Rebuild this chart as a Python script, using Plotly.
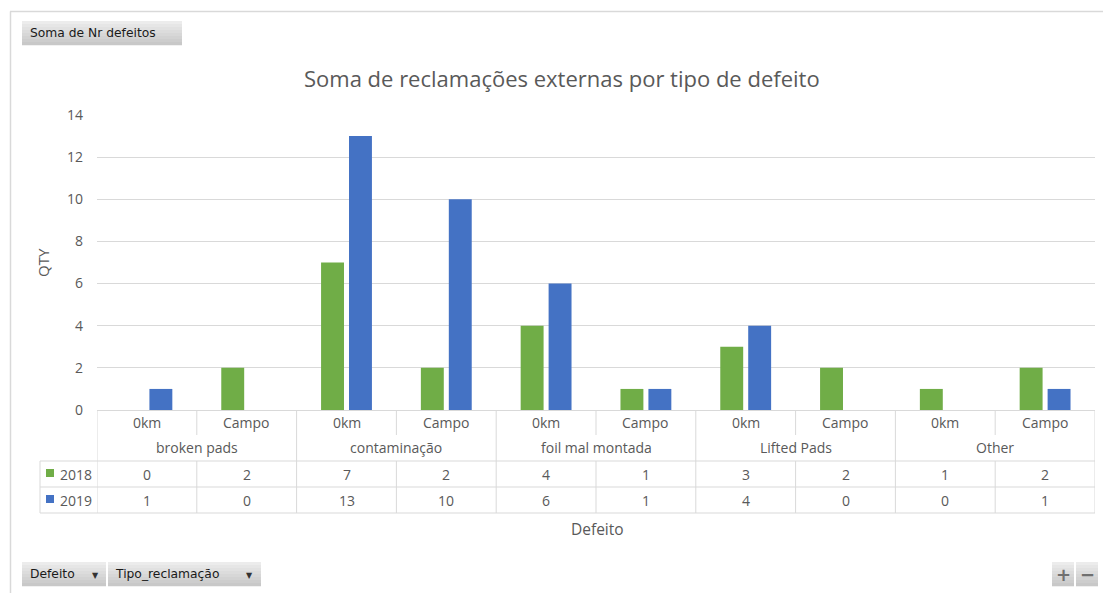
import plotly.graph_objects as go

# Pivot data: number of external complaints by defect type and complaint kind
defeitos = ["broken pads", "contaminação", "foil mal montada", "Lifted Pads", "Other"]
tipos = ["0km", "Campo"]
anos = ["2018", "2019"]
qtd_2018 = [0, 2, 7, 2, 4, 1, 3, 2, 1, 2]
qtd_2019 = [1, 0, 13, 10, 6, 1, 4, 0, 0, 1]
y_ticks = [0, 2, 4, 6, 8, 10, 12, 14]

series = {"2018": qtd_2018, "2019": qtd_2019}
cores = {"2018": "#70AD47", "2019": "#4472C4"}

W, H = 1103, 593
L, R, T, B = 97, 1095, 115, 410  # plot area in pixels
TXT = "#595959"
GRID = "#D9D9D9"
FONT = "Open Sans, Segoe UI, sans-serif"
BTN_FONT = "DejaVu Sans, Tahoma, sans-serif"

n = len(defeitos) * len(tipos)
xs = list(range(n))
sub_labels = [t for _ in defeitos for t in tipos]


def fx(p):
    return (p - L) / (R - L)


def fy(p):
    return (B - p) / (B - T)


fig = go.Figure()
for ano in anos:
    fig.add_trace(go.Bar(
        x=xs, y=series[ano], name=ano,
        marker=dict(color=cores[ano], line=dict(width=0)),
        showlegend=False, hoverinfo="y",
    ))

shapes = []
ann = []


def hline(y, x0, x1):
    shapes.append(dict(type="line", xref="paper", yref="paper",
                       x0=fx(x0), x1=fx(x1), y0=fy(y), y1=fy(y),
                       line=dict(color=GRID, width=1)))


def vline_data(v, y0, y1):
    shapes.append(dict(type="line", xref="x", yref="paper",
                       x0=v, x1=v, y0=fy(y0), y1=fy(y1),
                       line=dict(color=GRID, width=1)))


def text(x, y, s, size=14, color=TXT, xref="paper", family=FONT,
         xanchor="center", **kw):
    ann.append(dict(x=x, y=y, xref=xref, yref="paper", text=s, showarrow=False,
                    xanchor=xanchor, yanchor="middle",
                    font=dict(size=size, color=color, family=family), **kw))


# Outer chart frame
shapes.append(dict(type="line", xref="paper", yref="paper", x0=fx(10), x1=fx(W),
                   y0=fy(11.5), y1=fy(11.5), line=dict(color="#D9D9D9", width=1.5)))
shapes.append(dict(type="line", xref="paper", yref="paper", x0=fx(10.5), x1=fx(10.5),
                   y0=fy(11.5), y1=fy(H), line=dict(color="#D9D9D9", width=1.5)))

# Data table grid below the plot
ROW_SUB, ROW_CAT, ROW_A, ROW_B, ROW_END = 410, 435, 461, 487, 513
LEFT_COL = 40
for yy in (ROW_A, ROW_B, ROW_END):
    hline(yy, LEFT_COL, R)
shapes.append(dict(type="line", xref="paper", yref="paper", x0=fx(LEFT_COL), x1=fx(LEFT_COL),
                   y0=fy(ROW_A), y1=fy(ROW_END), line=dict(color=GRID, width=1)))
for g in range(len(defeitos) + 1):
    vline_data(-0.5 + 2 * g, ROW_SUB, ROW_END)
for g in range(len(defeitos)):
    v = 0.5 + 2 * g
    vline_data(v, ROW_SUB, ROW_CAT)
    vline_data(v, ROW_A, ROW_END)

# Category labels and values in the table
for i, lab in enumerate(sub_labels):
    text(xs[i], fy(422.5), lab, xref="x")
    text(xs[i], fy(474), str(qtd_2018[i]), xref="x")
    text(xs[i], fy(500), str(qtd_2019[i]), xref="x")
for g, lab in enumerate(defeitos):
    text(2 * g + 0.5, fy(447.5), lab, xref="x")

# Series keys in the left column
for ano, yc in (("2018", 473), ("2019", 499)):
    shapes.append(dict(type="rect", xref="paper", yref="paper",
                       x0=fx(46), x1=fx(54), y0=fy(yc - 4), y1=fy(yc + 4),
                       fillcolor=cores[ano], line=dict(width=0)))
    text(fx(75.5), fy(yc + 1), ano)

# Titles
text(fx(562), fy(78), "Soma de reclamações externas por tipo de defeito", size=22)
text(fx(597), fy(529), "Defeito", size=15.5)
text(fx(43), fy(263), "QTY", size=15, textangle=-90)


# Pivot field buttons with a light vertical gradient
def button(x0, x1, y0, y1):
    steps = 8
    top, bot = (236, 236, 236), (200, 200, 200)
    for k in range(steps):
        t = k / (steps - 1)
        c = tuple(int(top[j] + (bot[j] - top[j]) * t) for j in range(3))
        ya = y0 + (y1 - y0) * k / steps
        yb = y0 + (y1 - y0) * (k + 1) / steps
        shapes.append(dict(type="rect", xref="paper", yref="paper",
                           x0=fx(x0), x1=fx(x1), y0=fy(ya), y1=fy(yb + 0.3),
                           fillcolor="rgb(%d,%d,%d)" % c, line=dict(width=0)))


button(22, 182, 21, 45)
text(fx(28), fy(33), "Soma de Nr defeitos", size=12.3, color="#1A1A1A",
     family=BTN_FONT, xanchor="left")
button(22, 106, 562, 586)
text(fx(28), fy(574), "Defeito", size=12.3, color="#1A1A1A", family=BTN_FONT, xanchor="left")
text(fx(95), fy(575), "▼", size=8, color="#333333", family=BTN_FONT)
button(108, 261, 562, 586)
text(fx(113), fy(574), "Tipo_reclamação", size=12.3, color="#1A1A1A",
     family=BTN_FONT, xanchor="left")
text(fx(249), fy(575), "▼", size=8, color="#333333", family=BTN_FONT)
button(1052, 1074, 562, 586)
button(1076, 1098, 562, 586)
text(fx(1063), fy(574), "<b>+</b>", size=18, color="#707070", family=BTN_FONT)
text(fx(1087), fy(574), "<b>−</b>", size=18, color="#707070", family=BTN_FONT)

fig.update_layout(
    width=W, height=H, autosize=False,
    margin=dict(l=L, r=W - R, t=T, b=H - B, pad=0),
    paper_bgcolor="white", plot_bgcolor="white",
    barmode="group", bargap=0.44, bargroupgap=0.18,
    font=dict(family=FONT, color=TXT, size=14),
    shapes=shapes, annotations=ann,
    xaxis=dict(range=[-0.5, n - 0.5], showticklabels=False, showgrid=False,
               zeroline=False, showline=True, linecolor=GRID, linewidth=1,
               ticks="", fixedrange=True),
    yaxis=dict(range=[0, 14], tickvals=y_ticks, showgrid=True, gridcolor=GRID,
               gridwidth=1, zeroline=False, showline=False, ticks="",
               ticklabelstandoff=13, tickfont=dict(size=14, color=TXT),
               fixedrange=True),
)

fig.write_html("out.html", config={"displayModeBar": False})
